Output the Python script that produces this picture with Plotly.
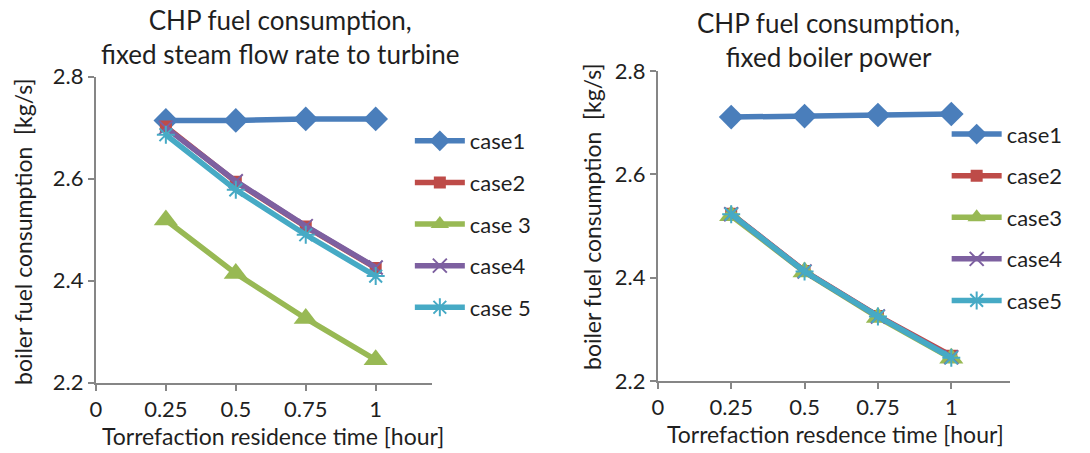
import plotly.graph_objects as go

# ---- data ----
hours = [0.25, 0.5, 0.75, 1.0]

names_left = ["case1", "case2", "case 3", "case4", "case 5"]
names_right = ["case1", "case2", "case3", "case4", "case5"]

left_case1 = [2.714, 2.714, 2.717, 2.717]
left_case2 = [2.702, 2.594, 2.506, 2.425]
left_case3 = [2.519, 2.414, 2.326, 2.245]
left_case4 = [2.700, 2.595, 2.507, 2.426]
left_case5 = [2.686, 2.578, 2.490, 2.409]

right_case1 = [2.711, 2.713, 2.715, 2.717]
right_case2 = [2.524, 2.413, 2.326, 2.249]
right_case3 = [2.520, 2.411, 2.323, 2.244]
right_case4 = [2.523, 2.412, 2.325, 2.246]
right_case5 = [2.523, 2.412, 2.325, 2.245]

x_tickvals = [0, 0.25, 0.5, 0.75, 1]
x_ticktext = ["0", "0.25", "0.5", "0.75", "1"]
y_tickvals = [2.2, 2.4, 2.6, 2.8]
y_ticktext = ["2.2", "2.4", "2.6", "2.8"]

# ---- styles ----
colors = ["#4A7EBB", "#BE4B48", "#98B954", "#7D60A0", "#46AAC5"]
markers = [
    dict(symbol="diamond", size=19),
    dict(symbol="square", size=12),
    dict(symbol="triangle-up", size=21),
    dict(symbol="x-thin-open", size=14, line=dict(width=2)),
    dict(symbol="asterisk-open", size=15, line=dict(width=2)),
]
FONT = "Lato"
TXT = "#1f1f1f"
AX = "#868686"

fig = go.Figure()

left_series = [left_case1, left_case2, left_case3, left_case4, left_case5]
right_series = [right_case1, right_case2, right_case3, right_case4, right_case5]

for i, ys in enumerate(left_series):
    m = dict(markers[i])
    m["color"] = colors[i]
    if "line" in m:
        m["line"] = dict(width=2, color=colors[i])
    fig.add_trace(go.Scatter(
        x=hours, y=ys, name=names_left[i], mode="lines+markers",
        line=dict(color=colors[i], width=5.5), marker=m,
        xaxis="x", yaxis="y", legend="legend", legendgroup="L%d" % i,
    ))

for i, ys in enumerate(right_series):
    m = dict(markers[i])
    m["color"] = colors[i]
    if "line" in m:
        m["line"] = dict(width=2, color=colors[i])
    fig.add_trace(go.Scatter(
        x=hours, y=ys, name=names_right[i], mode="lines+markers",
        line=dict(color=colors[i], width=5.5), marker=m,
        xaxis="x2", yaxis="y2", legend="legend2", legendgroup="R%d" % i,
    ))

axis_common = dict(
    showgrid=False, zeroline=False, showline=True, linecolor=AX, linewidth=2,
    ticks="outside", ticklen=6, tickwidth=2, tickcolor=AX, automargin=False,
    tickfont=dict(family=FONT, size=22, color=TXT),
)

fig.update_layout(
    width=1090, height=453,
    margin=dict(l=0, r=0, t=0, b=0, autoexpand=False),
    paper_bgcolor="white", plot_bgcolor="white",
    font=dict(family=FONT, color=TXT),
    xaxis=dict(domain=[0.088, 0.396], range=[0, 1.2], tickvals=x_tickvals,
               ticktext=x_ticktext, anchor="y", **axis_common),
    yaxis=dict(domain=[0.155, 0.831], range=[2.2, 2.8], tickvals=y_tickvals,
               ticktext=y_ticktext, anchor="x", **axis_common),
    xaxis2=dict(domain=[0.6035, 0.9266], range=[0, 1.2], tickvals=x_tickvals,
                ticktext=x_ticktext, anchor="y2", **axis_common),
    yaxis2=dict(domain=[0.159, 0.843], range=[2.2, 2.8], tickvals=y_tickvals,
                ticktext=y_ticktext, anchor="x2", **axis_common),
    legend=dict(x=0.376, y=0.735, xanchor="left", yanchor="top",
                font=dict(family=FONT, size=22, color=TXT),
                tracegroupgap=10, itemwidth=50, bgcolor="rgba(0,0,0,0)"),
    legend2=dict(x=0.8685, y=0.75, xanchor="left", yanchor="top",
                 font=dict(family=FONT, size=22, color=TXT),
                 tracegroupgap=10, itemwidth=50, bgcolor="rgba(0,0,0,0)"),
)

annots = [
    dict(text="CHP fuel consumption,<br>fixed steam flow rate to turbine",
         x=280 / 1090, y=1 - 37 / 453, size=26),
    dict(text="CHP fuel consumption,<br>fixed boiler power",
         x=828 / 1090, y=1 - 40 / 453, size=26),
    dict(text="Torrefaction residence time [hour]",
         x=273 / 1090, y=1 - 436 / 453, size=23),
    dict(text="Torrefaction resdence time [hour]",
         x=835 / 1090, y=1 - 434 / 453, size=23),
]
for a in annots:
    fig.add_annotation(text=a["text"], x=a["x"], y=a["y"], xref="paper", yref="paper",
                       xanchor="center", yanchor="middle", showarrow=False,
                       font=dict(family=FONT, size=a["size"], color=TXT))

for xpx, ypx in [(23, 232), (592, 217)]:
    fig.add_annotation(text="boiler fuel consumption  [kg/s]", x=xpx / 1090, y=1 - ypx / 453,
                       xref="paper", yref="paper", xanchor="center", yanchor="middle",
                       textangle=-90, showarrow=False,
                       font=dict(family=FONT, size=23, color=TXT))

fig.write_html("out.html", config={"displayModeBar": False},
               post_script="document.body.style.margin='0';document.body.style.overflow='hidden';")
